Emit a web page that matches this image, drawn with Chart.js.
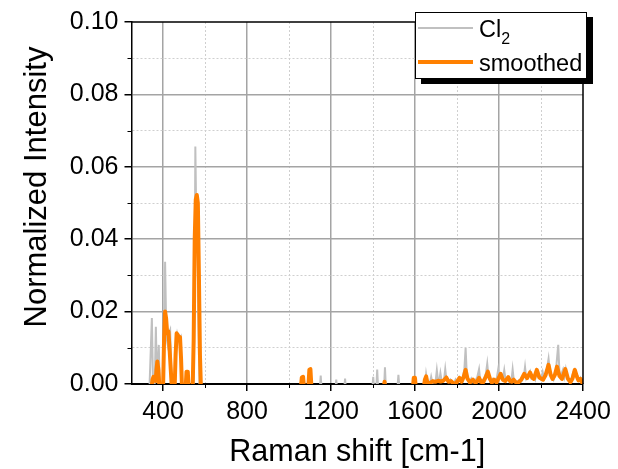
<!DOCTYPE html>
<html>
<head>
<meta charset="utf-8">
<script src="https://cdn.jsdelivr.net/npm/chart.js@4.4.1/dist/chart.umd.min.js"></script>
<style>
  html, body { margin: 0; padding: 0; background: #ffffff; }
  #wrap { width: 618px; height: 469px; }
</style>
</head>
<body>
<div id="wrap"><canvas id="raman" width="618" height="469"></canvas></div>
<script>
// Raman spectrum, Cl2 raw + smoothed. Values below 0 sit under the axis and get clipped.
const cl2Shift = [
    250, 335, 347, 353, 360, 366, 371, 380, 385, 402, 410, 416, 422, 428, 434, 439, 446,
    456, 462, 467, 473, 479, 484, 490, 510, 516, 521, 545, 550, 554, 558, 563, 568, 574,
    1060, 1066, 1071, 1095, 1100, 1105, 1146, 1151, 1156, 1220, 1225, 1230, 1262, 1267, 1272,
    1396, 1401, 1406, 1415, 1420, 1425, 1452, 1457, 1462, 1515, 1521, 1527, 1592, 1597, 1602,
    1646, 1653, 1659, 1665, 1672, 1677, 1683, 1698, 1704, 1710, 1716, 1721, 1727, 1738, 1744,
    1750, 1760, 1768, 1775, 1788, 1793, 1800, 1810, 1818, 1828, 1835, 1841, 1847, 1858, 1868,
    1876, 1888, 1897, 1905, 1911, 1922, 1930, 1938, 1944, 1950, 1958, 1968, 1976, 1990, 1996,
    2002, 2010, 2018, 2025, 2031, 2040, 2050, 2060, 2065, 2071, 2085, 2095, 2105, 2118, 2124,
    2130, 2140, 2148, 2155, 2165, 2172, 2180, 2188, 2200, 2208, 2215, 2225, 2236, 2243, 2252,
    2260, 2270, 2282, 2288, 2296, 2305, 2312, 2318, 2326, 2335, 2345, 2355, 2361, 2368, 2375,
    2382, 2388, 2395, 2400
];
const cl2Intensity = [
    -0.002, -0.002, 0.0182, -0.002, -0.002, 0.0158, 0.001, 0.0108, -0.002, -0.002, 0.0338, 0.013, 0.011, 0.014, 0.0149, 0.004, -0.002,
    -0.002, 0.012, 0.0138, 0.012, 0.0125, 0.013, -0.002, -0.002, 0.0034, -0.002, -0.002, 0.02, 0.0656, 0.048, 0.05, 0.02, -0.002,
    -0.002, 0.0016, -0.002, -0.002, 0.0036, -0.002, -0.002, 0.0023, -0.002, -0.002, 0.0012, -0.002, -0.002, 0.0015, -0.002,
    -0.002, 0.002, -0.002, -0.002, 0.004, -0.002, -0.002, 0.0046, -0.002, -0.002, 0.0025, -0.002, -0.002, 0.0015, -0.002,
    -0.002, 0.0026, 0.0003, 0.0004, 0.0005, 0.002, 0.0003, 0.0006, 0.0038, 0.0008, 0.001, 0.003, 0.0008, 0.001, 0.0041,
    0.001, 0.0006, 0.0012, 0.0003, 0.0005, 0.0012, 0.0004, 0.0018, 0.0008, 0.002, 0.004, 0.0099, 0.002, 0.0004, 0.0015,
    0.0005, 0.001, 0.002, 0.0041, 0.0008, 0.001, 0.0016, 0.003, 0.0056, 0.002, 0.0008, 0.0014, 0.0006, 0.0018, 0.004,
    0.0015, 0.002, 0.0012, 0.0038, 0.0012, 0.0014, 0.0006, 0.0012, 0.004, 0.0008, 0.0004, 0.001, 0.0006, 0.0018, 0.0047,
    0.0015, 0.0025, 0.0035, 0.0015, 0.002, 0.0012, 0.0035, 0.0018, 0.0012, 0.0033, 0.0015, 0.003, 0.007, 0.003, 0.0022,
    0.0012, 0.003, 0.0108, 0.003, 0.0025, 0.004, 0.002, 0.004, 0.0012, 0.0008, 0.0015, 0.0035, 0.004, 0.0025, 0.0012,
    0.0008, 0.0016, 0.0004, -0.002
];

const smoothShift = [
    250, 343, 350, 355, 360, 365, 369, 373, 378, 384, 400, 405, 410, 415, 420, 426, 431, 437, 443,
    455, 460, 465, 471, 476, 481, 486, 491, 507, 512, 518, 523, 541, 546, 551, 556, 561, 566, 571, 576, 581,
    1055, 1061, 1067, 1073, 1091, 1097, 1102, 1108, 1450, 1455, 1460, 1589, 1594, 1600, 1605,
    1640, 1647, 1653, 1659, 1672, 1685, 1697, 1710, 1722, 1735, 1749, 1760, 1772, 1785, 1797,
    1812, 1822, 1832, 1841, 1850, 1862, 1876, 1888, 1897, 1905, 1914, 1924, 1936, 1947, 1957,
    1966, 1976, 1988, 2000, 2008, 2018, 2030, 2044, 2053, 2060, 2070, 2080, 2092, 2106, 2120,
    2134, 2148, 2158, 2166, 2180, 2192, 2210, 2222, 2236, 2246, 2255, 2266, 2276, 2288, 2300,
    2316, 2328, 2340, 2350, 2361, 2370, 2378, 2388, 2397, 2400
];
const smoothIntensity = [
    -0.002, -0.002, 0.0012, 0.002, 0.0012, 0.0008, 0.004, 0.0062, 0.004, -0.002, -0.002, 0.012, 0.02, 0.018, 0.014, 0.0145, 0.01, 0.004, -0.002,
    -0.002, 0.008, 0.014, 0.0135, 0.013, 0.013, 0.007, -0.002, -0.002, 0.0034, 0.0034, -0.002, -0.002, 0.012, 0.04, 0.051, 0.0522, 0.05, 0.03, 0.008, -0.002,
    -0.002, 0.0018, 0.002, -0.002, -0.002, 0.004, 0.0041, -0.002, -0.002, 0.0006, -0.002, -0.002, 0.0017, 0.0017, -0.002,
    -0.002, 0.0012, 0.0021, 0.0004, 0.0003, 0.0008, 0.0006, 0.0009, 0.0007, 0.0009, 0.0018, 0.0006, 0.0008, 0.0001, 0.0003,
    0.0017, 0.0006, 0.002, 0.0039, 0.0015, 0.0004, 0.0012, 0.0003, 0.0008, 0.0017, 0.0006, 0.0004, 0.0018, 0.0034, 0.0014,
    0.0004, 0.0012, 0.0004, 0.0018, 0.0028, 0.0012, 0.0008, 0.0019, 0.0008, 0.0006, 0.0012, 0.0005, 0.0004, 0.0012, 0.0028,
    0.0016, 0.0032, 0.0018, 0.0014, 0.0039, 0.0018, 0.0012, 0.0025, 0.0053, 0.0025, 0.0014, 0.0025, 0.0048, 0.0022, 0.0014,
    0.0041, 0.0015, 0.0005, 0.0015, 0.0039, 0.0022, 0.001, 0.0014, 0.0003, -0.002
];

const xRange = [250, 2400];
const yRange = [0, 0.1];

const FONT = '"Liberation Sans", Arial, sans-serif';
Chart.defaults.font.family = FONT;
Chart.defaults.color = '#000000';

const isMajorX = v => Math.round(v) % 400 === 0;
const isMajorY = v => Math.round(v * 100) % 2 === 0;

function toPoints(xs, ys) {
    return xs.map((x, i) => ({ x: x, y: ys[i] }));
}

// frame, minor tick marks, y title and the boxed legend with drop shadow
const extras = {
    id: 'extras',
    afterDraw(chart) {
        const { ctx, chartArea: a, scales: { x, y } } = chart;
        ctx.save();
        ctx.strokeStyle = '#000000';
        ctx.lineWidth = 1.5;
        ctx.beginPath();
        ctx.moveTo(a.left, a.top);
        ctx.lineTo(a.right, a.top);
        ctx.lineTo(a.right, a.bottom);
        ctx.stroke();

        ctx.lineWidth = 1;
        ctx.beginPath();
        x.ticks.forEach(t => {
            if (!isMajorX(t.value) && t.value > x.min) {
                const px = Math.round(x.getPixelForValue(t.value)) + 0.5;
                ctx.moveTo(px, a.bottom);
                ctx.lineTo(px, a.bottom + 4);
            }
        });
        y.ticks.forEach(t => {
            if (!isMajorY(t.value)) {
                const py = Math.round(y.getPixelForValue(t.value)) + 0.5;
                ctx.moveTo(a.left, py);
                ctx.lineTo(a.left - 4, py);
            }
        });
        ctx.stroke();

        // y axis title (sits a bit above the axis middle in the original)
        ctx.save();
        ctx.translate(37, (a.top + a.bottom) / 2 - 16);
        ctx.rotate(-Math.PI / 2);
        ctx.font = '31px ' + FONT;
        ctx.fillStyle = '#000000';
        ctx.textAlign = 'center';
        ctx.textBaseline = 'middle';
        ctx.fillText('Normalized Intensity', 0, 0);
        ctx.restore();

        // legend
        const lx = a.right - 168, ly = a.top - 10, lw = 172, lh = 67;
        ctx.fillStyle = '#000000';
        ctx.fillRect(lx + 6, ly + 5, lw, lh);
        ctx.fillStyle = '#ffffff';
        ctx.fillRect(lx, ly, lw, lh);
        ctx.strokeStyle = '#000000';
        ctx.lineWidth = 1;
        ctx.strokeRect(lx + 0.5, ly + 0.5, lw - 1, lh - 1);

        ctx.lineWidth = 2;
        ctx.strokeStyle = '#c0c0c0';
        ctx.beginPath();
        ctx.moveTo(lx + 3, ly + 16);
        ctx.lineTo(lx + 58, ly + 16);
        ctx.stroke();
        ctx.lineWidth = 4;
        ctx.strokeStyle = '#ff8000';
        ctx.beginPath();
        ctx.moveTo(lx + 3, ly + 50);
        ctx.lineTo(lx + 58, ly + 50);
        ctx.stroke();

        ctx.fillStyle = '#000000';
        ctx.textAlign = 'left';
        ctx.textBaseline = 'alphabetic';
        ctx.font = '23.5px ' + FONT;
        ctx.fillText('Cl', lx + 64, ly + 25);
        const clW = ctx.measureText('Cl').width;
        ctx.fillText('smoothed', lx + 64, ly + 59);
        ctx.font = '16px ' + FONT;
        ctx.fillText('2', lx + 64 + clW, ly + 32);
        ctx.restore();
    }
};

new Chart(document.getElementById('raman'), {
    type: 'line',
    data: {
        datasets: [{
            label: 'smoothed',
            data: toPoints(smoothShift, smoothIntensity),
            borderColor: '#ff8000',
            borderWidth: 4,
            borderJoinStyle: 'round',
            pointRadius: 0,
            tension: 0,
            clip: 0,
            order: 0
        }, {
            label: 'Cl2',
            data: toPoints(cl2Shift, cl2Intensity),
            borderColor: '#c0c0c0',
            borderWidth: 2,
            pointRadius: 0,
            tension: 0,
            clip: 0,
            order: 1
        }]
    },
    options: {
        responsive: false,
        animation: false,
        layout: { padding: { top: 22, right: 35, left: 0, bottom: 0 } },
        plugins: {
            legend: { display: false },
            tooltip: { enabled: false }
        },
        scales: {
            x: {
                type: 'linear',
                min: xRange[0],
                max: xRange[1],
                afterFit: s => { s.height = 85; },
                ticks: {
                    stepSize: 200,
                    includeBounds: false,
                    autoSkip: false,
                    maxRotation: 0,
                    padding: 6,
                    font: { size: 25 },
                    callback: v => (isMajorX(v) ? String(v) : '')
                },
                grid: {
                    tickLength: 7,
                    color: c => (c.tick && c.tick.value > xRange[0] && c.tick.value < xRange[1]
                        ? (isMajorX(c.tick.value) ? '#a4a4a4' : '#cfcfcf') : 'rgba(0,0,0,0)'),
                    lineWidth: c => (c.tick && isMajorX(c.tick.value) ? 1.5 : 1),
                    tickColor: c => (c.tick && isMajorX(c.tick.value) ? '#000000' : 'rgba(0,0,0,0)'),
                    tickWidth: 1.5
                },
                border: {
                    color: '#000000',
                    width: 2,
                    dash: c => (c.tick && !isMajorX(c.tick.value) ? [2, 2] : [])
                },
                title: {
                    display: true,
                    text: 'Raman shift [cm-1]',
                    font: { size: 30.5, lineHeight: 1.1 },
                    padding: { top: 0, bottom: 0 }
                }
            },
            y: {
                min: yRange[0],
                max: yRange[1],
                afterFit: s => { s.width = 131.5; },
                ticks: {
                    stepSize: 0.01,
                    autoSkip: false,
                    padding: 6,
                    font: { size: 25 },
                    callback: v => (isMajorY(v) ? v.toFixed(2) : '')
                },
                grid: {
                    tickLength: 7,
                    color: c => (c.tick && c.tick.value > yRange[0] + 1e-9 && c.tick.value < yRange[1] - 1e-9
                        ? (isMajorY(c.tick.value) ? '#a4a4a4' : '#cfcfcf') : 'rgba(0,0,0,0)'),
                    lineWidth: c => (c.tick && isMajorY(c.tick.value) ? 1.5 : 1),
                    tickColor: c => (c.tick && isMajorY(c.tick.value) ? '#000000' : 'rgba(0,0,0,0)'),
                    tickWidth: 1.5
                },
                border: {
                    color: '#000000',
                    width: 1.5,
                    dash: c => (c.tick && !isMajorY(c.tick.value) ? [2, 2] : [])
                },
                title: { display: false }
            }
        }
    },
    plugins: [extras]
});
</script>
</body>
</html>
